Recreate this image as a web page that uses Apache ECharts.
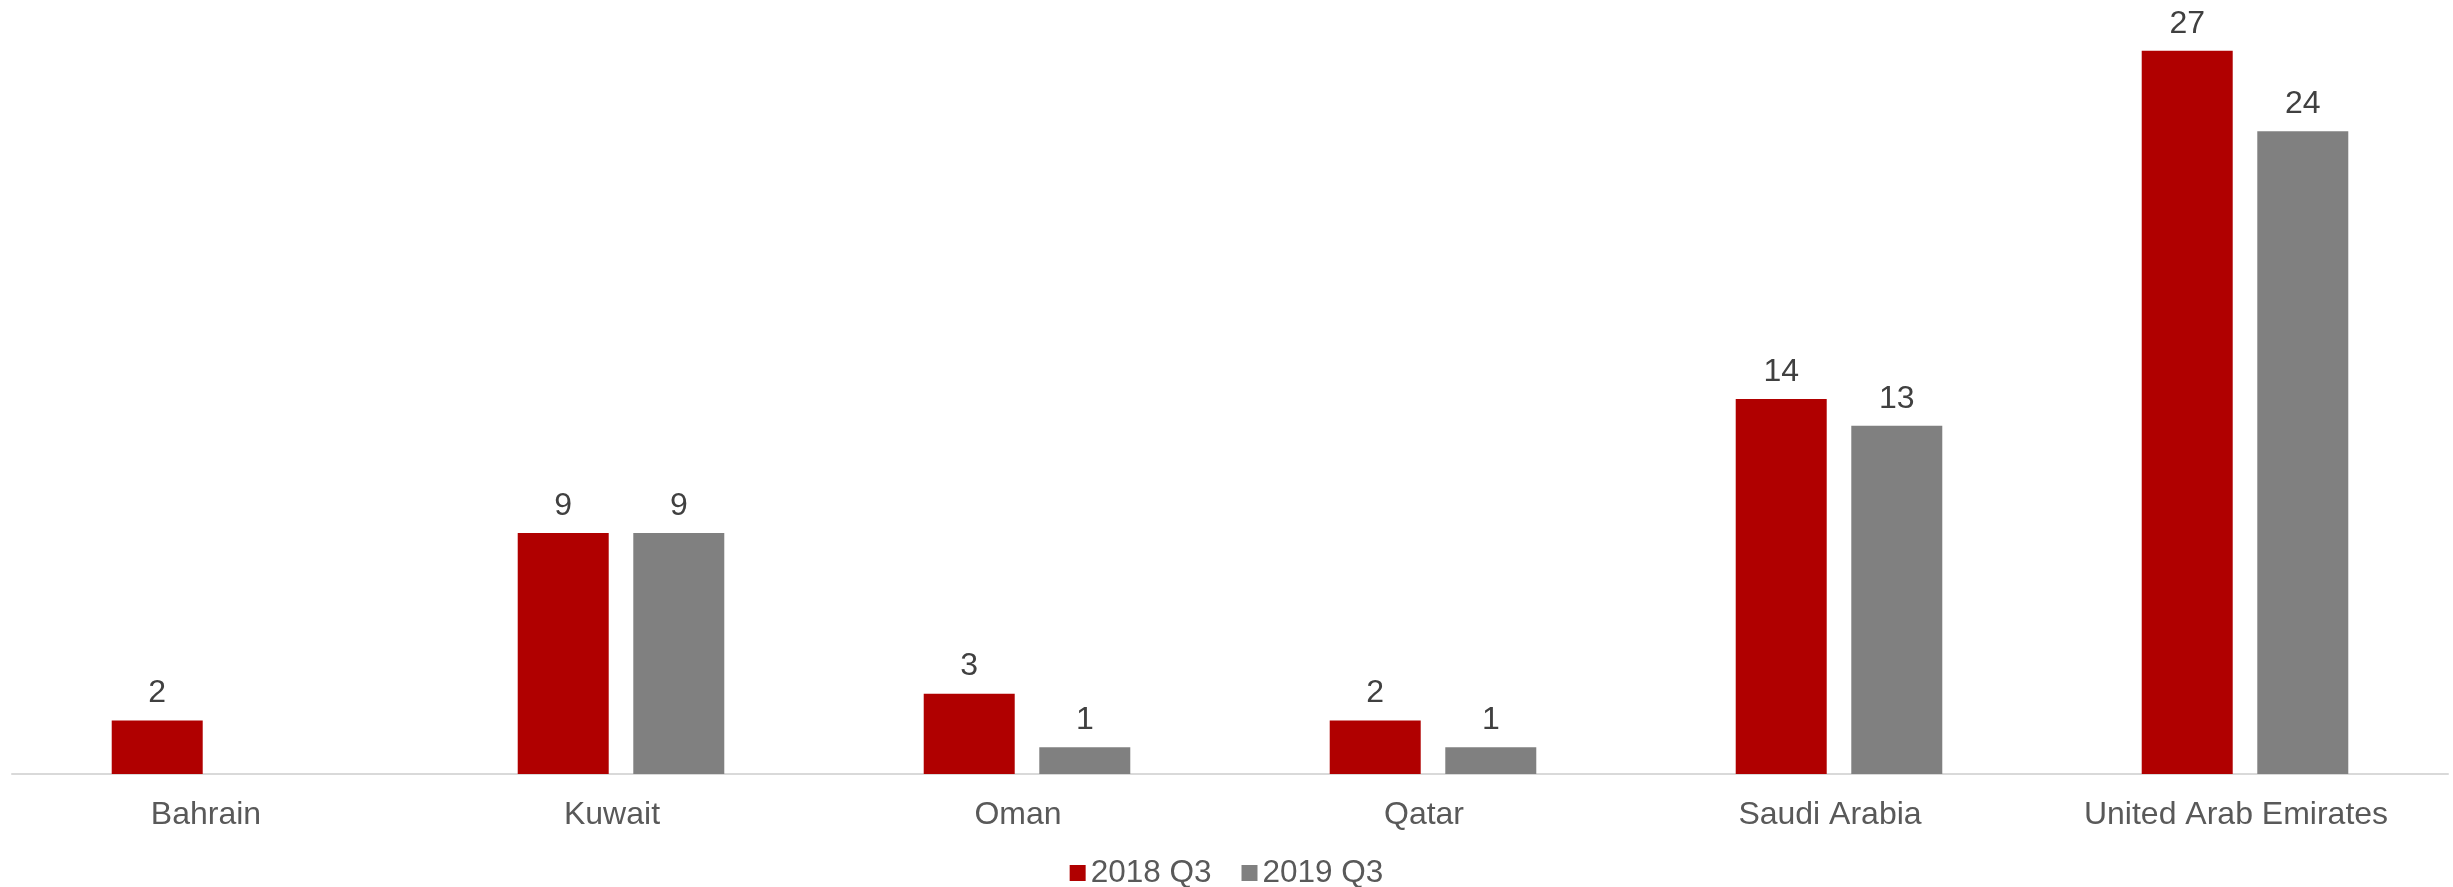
<!DOCTYPE html>
<html>
<head>
<meta charset="utf-8">
<script src="https://cdn.jsdelivr.net/npm/echarts@6/dist/echarts.min.js"></script>
<style>
  html, body { margin: 0; padding: 0; background: #fff; }
  #chart { width: 2453px; height: 887px; }
</style>
</head>
<body>
<div id="chart"></div>
<script>
const countries = ["Bahrain", "Kuwait", "Oman", "Qatar", "Saudi Arabia", "United Arab Emirates"];
const q3_2018 = [2, 9, 3, 2, 14, 27];
const q3_2019 = [null, 9, 1, 1, 13, 24];
const seriesNames = ["2018 Q3", "2019 Q3"];

const font = "Liberation Sans, Arial, sans-serif";

// shared look for the value labels above each bar
const barLabel = {
    show: true,
    position: "top",
    distance: 11,
    fontSize: 32,
    fontFamily: font,
    color: "#404040"
};

const chart = echarts.init(document.getElementById("chart"));
chart.setOption({
    animation: false,
    grid: { left: 12, right: 5, top: 24, bottom: 113, containLabel: false },
    legend: {
        data: seriesNames,
        top: 852,
        left: "center",
        icon: "rect",
        itemWidth: 16,
        itemHeight: 16,
        itemGap: 30,
        textStyle: { fontSize: 31.5, fontFamily: font, color: "#595959" }
    },
    xAxis: {
        type: "category",
        data: countries,
        axisLine: { lineStyle: { color: "#D9D9D9", width: 2 } },
        axisTick: { show: false },
        axisLabel: {
            fontSize: 32, fontFamily: font, color: "#595959", margin: 25,
            padding: [0, 18, 0, 0]  // labels sit a little left of the bar pairs
        }
    },
    yAxis: {
        type: "value",
        min: 0,
        max: 28,
        show: false,
        splitLine: { show: false }
    },
    series: [
        {
            name: seriesNames[0],
            type: "bar",
            data: q3_2018,
            barWidth: 91,
            barGap: "27%",
            itemStyle: { color: "#B00000" },
            label: barLabel
        },
        {
            name: seriesNames[1],
            type: "bar",
            data: q3_2019,
            barWidth: 91,
            itemStyle: { color: "#808080" },
            label: barLabel
        }
    ]
});
</script>
</body>
</html>
